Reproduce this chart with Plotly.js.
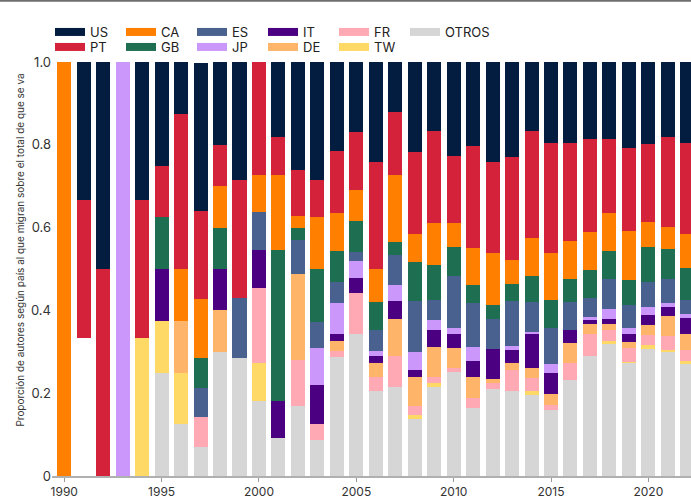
<!DOCTYPE html>
<html>
<head>
<meta charset="utf-8">
<script src="https://cdn.plot.ly/plotly-3.0.1.min.js"></script>
<style>html,body{margin:0;padding:0;background:#fff;}#chart{width:691px;height:499px;}</style>
</head>
<body>
<div id="chart"></div>
<script>
const years = [1990,1991,1992,1993,1994,1995,1996,1997,1998,1999,2000,2001,2002,2003,2004,2005,2006,2007,2008,2009,2010,2011,2012,2013,2014,2015,2016,2017,2018,2019,2020,2021,2022];

const US    = [0,0.333,0.5,0,0.333,0.25,0.125,0.357,0.2,0.286,0,0.182,0.26,0.284,0.215,0.168,0.242,0.121,0.218,0.168,0.227,0.202,0.242,0.231,0.166,0.195,0.195,0.184,0.187,0.207,0.2,0.181,0.195];
const PT    = [0,0.333,0.5,0,0.333,0.125,0.375,0.214,0.1,0.286,0.273,0.091,0.11,0.091,0.15,0.14,0.259,0.154,0.197,0.223,0.163,0.246,0.22,0.249,0.259,0.267,0.238,0.225,0.178,0.201,0.187,0.218,0.22];
const CA    = [1,0,0,0,0,0,0.125,0.143,0.1,0,0.091,0.182,0.03,0.126,0.092,0.077,0.079,0.161,0.068,0.1,0.058,0.089,0.124,0.058,0.091,0.113,0.09,0.092,0.092,0.118,0.061,0.053,0.083];
const GB    = [0,0,0,0,0,0.125,0,0.071,0.1,0,0,0.364,0.03,0.128,0.074,0.075,0.068,0.03,0.095,0.085,0.068,0.043,0.035,0.04,0.064,0.068,0.057,0.069,0.066,0.059,0.084,0.072,0.076];
const ES    = [0,0,0,0,0,0,0,0.071,0,0.143,0.091,0,0.082,0.062,0.052,0.02,0.049,0.073,0.123,0.047,0.126,0.108,0.072,0.11,0.071,0.086,0.067,0.046,0.073,0.056,0.06,0.057,0.034];
const JP    = [0,0,0,1,0,0,0,0,0,0,0,0,0,0.09,0.075,0.042,0.014,0.04,0.044,0.025,0.015,0.034,0,0.009,0.006,0.022,0,0.007,0.025,0.016,0.021,0.011,0.011];
const IT    = [0,0,0,0,0,0.125,0,0,0.1,0,0.091,0.091,0,0.093,0.015,0.037,0.015,0.043,0.016,0.041,0.033,0.039,0.073,0.032,0.082,0.052,0.031,0.01,0.012,0.018,0.023,0.022,0.037];
const DE    = [0,0,0,0,0,0,0.125,0,0.1,0,0,0,0.207,0,0.024,0,0.036,0.09,0.07,0.074,0.048,0.05,0.01,0.017,0.025,0.026,0.048,0.024,0.014,0.015,0.024,0.048,0.04];
const FR    = [0,0,0,0,0,0,0,0.071,0,0,0.182,0,0.11,0.039,0.015,0.098,0.033,0.074,0.022,0.013,0.01,0.023,0.015,0.05,0.031,0.011,0.041,0.053,0.026,0.033,0.025,0.033,0.027];
const TW    = [0,0,0,0,0.333,0.125,0.125,0,0,0,0.091,0,0,0,0,0,0,0,0.009,0.009,0,0,0,0,0.01,0,0,0,0.009,0.004,0.009,0.006,0.006];
const OTROS = [0,0,0,0,0,0.25,0.125,0.071,0.3,0.286,0.182,0.091,0.17,0.087,0.288,0.343,0.205,0.215,0.138,0.216,0.252,0.165,0.209,0.205,0.195,0.16,0.233,0.289,0.318,0.272,0.307,0.299,0.271];
const SIN_DATO = [0,0.333,0,0,0,0,0,0,0,0,0,0,0,0,0,0,0,0,0,0,0,0,0,0,0,0,0,0,0,0,0,0,0];

const xTicks = [1990,1995,2000,2005,2010,2015,2020];
const yTicks = [0,0.2,0.4,0.6,0.8,1.0];
const yTickText = ["0","0.2","0.4","0.6","0.8","1.0"];
const yTitle = "Proporción de autores según país al que migran sobre el total de que se va";

const colors = {
  US:"#021d40", PT:"#d4223a", CA:"#ff7f00", GB:"#1e6e52", ES:"#49618e",
  JP:"#cc97fb", IT:"#4a0081", DE:"#feb469", FR:"#ffa9b4", TW:"#ffd966",
  OTROS:"#d6d6d6", SIN_DATO:"#ffffff"
};

// bottom -> top stacking order
const stack = [
  ["SIN_DATO", SIN_DATO], ["OTROS", OTROS], ["TW", TW], ["FR", FR], ["DE", DE],
  ["IT", IT], ["JP", JP], ["ES", ES], ["GB", GB], ["CA", CA], ["PT", PT], ["US", US]
];

const traces = stack.map(([name, vals]) => ({
  type: "bar", name: name, x: years, y: vals,
  marker: {color: colors[name], line: {width: 0}},
  showlegend: false, hoverinfo: "x+y+name"
}));

const row1 = ["US","CA","ES","IT","FR"];
const row2 = ["PT","GB","JP","DE","TW"];
function legendTrace(name, leg) {
  return {type:"scatter", mode:"lines", x:[null], y:[null], name:name,
          line:{color:colors[name], width:8}, legend:leg, showlegend:true, hoverinfo:"skip"};
}
row1.forEach(n => traces.push(legendTrace(n, "legend")));
row2.forEach(n => traces.push(legendTrace(n, "legend2")));
traces.push(legendTrace("OTROS", "legend3"));

const font = "Inter, 'Liberation Sans', sans-serif";
const legCommon = {
  orientation: "h", xref: "container", yref: "container", xanchor: "left", yanchor: "middle",
  entrywidth: 26, entrywidthmode: "pixels", bgcolor: "rgba(0,0,0,0)", borderwidth: 0,
  font: {family: font, size: 13, color: "#222"}, traceorder: "normal", itemclick: false
};

const layout = {
  width: 691, height: 499,
  margin: {l: 52, r: 0, t: 62, b: 23},
  paper_bgcolor: "#fff", plot_bgcolor: "#fff",
  barmode: "stack", bargap: 0.28,
  font: {family: font, size: 13, color: "#333"},
  showlegend: true,
  legend: Object.assign({}, legCommon, {x: 50/691, y: 1 - 32/499}),
  legend2: Object.assign({}, legCommon, {x: 50/691, y: 1 - 47/499}),
  legend3: Object.assign({}, legCommon, {x: 405/691, y: 1 - 32/499, entrywidth: 60}),
  xaxis: {
    range: [1989.37, 2022.19], tickvals: xTicks, ticktext: xTicks.map(String),
    ticks: "outside", ticklen: 4, tickcolor: "#9a9a9a", tickwidth: 1,
    showline: true, linecolor: "#b0b0b0", linewidth: 1.5, showgrid: false, zeroline: false,
    tickfont: {family: font, size: 12, color: "#333"}, fixedrange: true
  },
  yaxis: {
    range: [0, 1.0], tickvals: yTicks, ticktext: yTickText,
    showgrid: false, zeroline: false, showline: false, ticks: "",
    tickfont: {family: font, size: 13, color: "#333"},
    fixedrange: true
  },
  annotations: [{
    text: yTitle, xref: "paper", yref: "paper",
    x: -32/639, y: (476.5 - 251)/414.2, xanchor: "center", yanchor: "middle",
    textangle: -90, showarrow: false,
    font: {family: font, size: 10, color: "#333"}
  }],
  shapes: [{
    type: "line", xref: "paper", yref: "paper",
    x0: -52/639, x1: 1, y0: 1 + 61.3/414.2, y1: 1 + 61.3/414.2,
    line: {color: "#6e6e6e", width: 2}
  }]
};

Plotly.newPlot("chart", traces, layout, {displayModeBar: false, staticPlot: true});
</script>
</body>
</html>
